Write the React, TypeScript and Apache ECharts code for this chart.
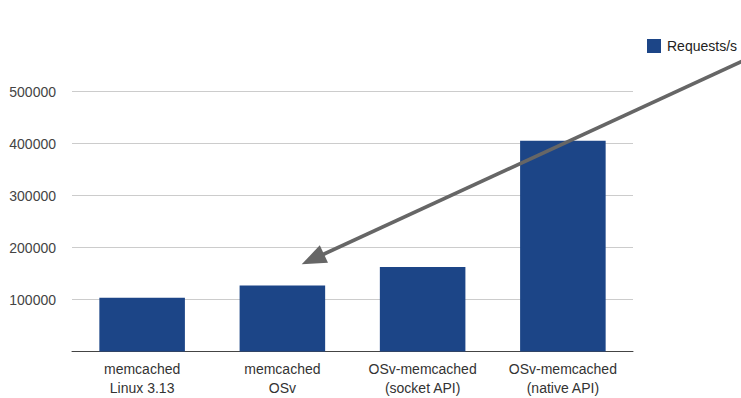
import React, { useEffect, useRef } from "react";
import * as echarts from "echarts";

const categories = [
  "memcached\nLinux 3.13",
  "memcached\nOSv",
  "OSv-memcached\n(socket API)",
  "OSv-memcached\n(native API)",
];
const requestsPerSec = [103500, 127000, 162500, 405500];
const seriesName = "Requests/s";

export default function App() {
  const ref = useRef<HTMLDivElement>(null);
  useEffect(() => {
    document.body.style.margin = "0";
    const chart = echarts.init(ref.current!, null, { renderer: "svg" });
    const font = "Arial, 'Liberation Sans', sans-serif";
    chart.setOption({
      animation: false,
      backgroundColor: "#ffffff",
      textStyle: { fontFamily: font },
      grid: {
        left: 72,
        right: 108,
        top: 39.5,
        bottom: 46.5,
        containLabel: false,
        outerBoundsMode: "none",
      },
      legend: {
        data: [seriesName],
        left: 647,
        top: 39,
        padding: 0,
        itemWidth: 14,
        itemHeight: 14,
        itemGap: 6,
        icon: "rect",
        textStyle: { fontSize: 14, color: "#222", fontFamily: font, padding: [0, 0, 0, 1] },
      },
      xAxis: {
        type: "category",
        data: categories,
        axisLine: { show: true, lineStyle: { color: "#444", width: 1 } },
        axisTick: { show: false },
        axisLabel: {
          fontSize: 14,
          color: "#333",
          lineHeight: 19,
          margin: 8,
          interval: 0,
          fontFamily: font,
        },
      },
      yAxis: {
        type: "value",
        min: 0,
        max: 600000,
        interval: 100000,
        axisLine: { show: false },
        axisTick: { show: false },
        axisLabel: {
          fontSize: 14,
          color: "#444",
          margin: 16,
          fontFamily: font,
          formatter: (v: number) => (v === 0 || v === 600000 ? "" : String(v)),
        },
        splitLine: {
          show: true,
          lineStyle: {
            color: ["transparent", "#cccccc", "#cccccc", "#cccccc", "#cccccc", "#cccccc", "transparent"],
            width: 1,
          },
        },
      },
      series: [
        {
          name: seriesName,
          type: "bar",
          data: requestsPerSec,
          barWidth: "61%",
          itemStyle: { color: "#1c4587" },
        },
      ],
      graphic: [
        {
          type: "polyline",
          shape: { points: [[745, 60], [322, 255]] },
          style: { stroke: "#666666", lineWidth: 3.6, fill: "none" },
          z: 100,
        },
        {
          type: "polygon",
          shape: { points: [[301.7, 264.3], [319.8, 245.3], [328, 262.8]] },
          style: { fill: "#666666" },
          z: 100,
        },
      ],
    });
    return () => chart.dispose();
  }, []);
  return <div ref={ref} style={{ width: 741, height: 398 }} />;
}
